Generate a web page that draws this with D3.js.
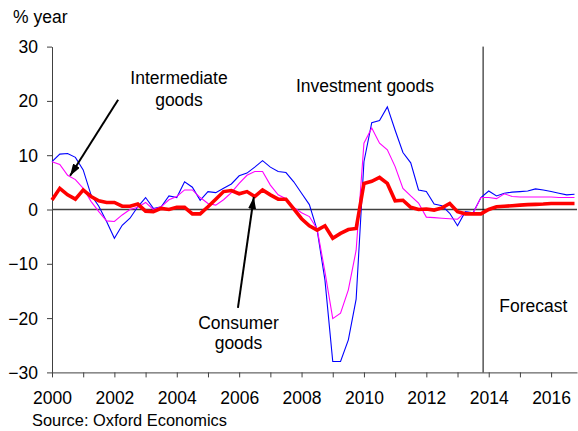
<!DOCTYPE html>
<html>
<head>
<meta charset="utf-8">
<script src="https://cdn.jsdelivr.net/npm/d3@7"></script>
<style>
  html, body { margin: 0; padding: 0; background: #ffffff; }
  #chart svg { display: block; font-family: 'Liberation Sans', Arial, sans-serif; }
  #chart .axis text { font-size: 17.5px; fill: #000000; font-family: 'Liberation Sans', Arial, sans-serif; }
  #chart .axis path, #chart .axis line { stroke: #404040; }
  #chart .label { font-size: 17.5px; fill: #000000; }
</style>
</head>
<body>
<div id="chart"></div>
<script>
/* ── DATA (quarterly, % year, 2000 Q1 → 2016 Q4) ─────────────── */
const startYear = 2000;
const forecastStart = 2013.82;

const yTicks = [-30, -20, -10, 0, 10, 20, 30];
const xTickYears = [2000, 2001, 2002, 2003, 2004, 2005, 2006, 2007, 2008,
                    2009, 2010, 2011, 2012, 2013, 2014, 2015, 2016];

const investmentGoods = [
  8.8, 10.2, 10.3, 9.6, 7.3, 2.7, 0.6, -2.2,
  -5.3, -2.9, -1.6, 0.5, 2.2, 0.2, 0.5, 2.5,
  2.2, 5.1, 4.1, 1.7, 3.3, 3.1, 3.9, 4.7,
  6.2, 6.7, 7.8, 9.0, 7.8, 7.0, 6.8, 5.1,
  3.0, 0.9, -3.8, -13.0, -28.0, -28.0, -24.0, -16.5,
  8.8, 16.0, 16.4, 18.9, 14.6, 10.5, 8.6, 3.6,
  3.3, 1.0, 0.7, -0.7, -3.0, -0.4, -0.6, 2.2,
  3.4, 2.5, 3.0, 3.2, 3.3, 3.4, 3.8, 3.6,
  3.3, 3.0, 2.7, 2.8
];

const intermediateGoods = [
  8.8, 8.3, 6.3, 5.5, 3.9, 1.5, -0.4, -2.1,
  -2.2, -1.0, 0.0, 0.4, 1.3, 0.0, 0.5, 1.8,
  2.4, 3.6, 3.6, 2.2, 1.1, 0.8, 1.8, 3.1,
  4.8, 6.3, 7.0, 7.0, 4.5, 2.7, 2.0, 0.4,
  -0.6, -1.3, -3.6, -11.5, -20.1, -19.1, -14.8, -7.5,
  12.2, 15.0, 12.2, 11.0, 7.9, 3.9, 2.5, 1.2,
  -1.4, -1.5, -1.6, -1.7, -1.8, -0.5, -0.7, 2.2,
  2.2, 2.0, 2.9, 2.4, 2.3, 2.3, 2.3, 2.3,
  2.3, 2.2, 2.2, 2.2
];

const consumerGoods = [
  1.75, 3.9, 2.7, 1.9, 3.6, 2.4, 1.6, 1.3,
  1.3, 0.6, 0.6, 1.0, -0.3, -0.4, 0.2, 0.0,
  0.4, 0.4, -0.8, -0.8, 0.5, 1.9, 3.3, 3.5,
  2.9, 3.3, 2.4, 3.6, 2.7, 1.9, 1.9, 0.1,
  -1.7, -3.0, -3.8, -3.0, -5.3, -4.4, -3.7, -3.5,
  4.8, 5.2, 5.9, 4.8, 1.6, 1.7, 0.4, 0.0,
  0.1, -0.1, 0.3, 1.1, -0.4, -0.8, -0.8, -0.8,
  0.0, 0.5, 0.6, 0.7, 0.8, 0.9, 0.95, 1.0,
  1.1, 1.1, 1.1, 1.1
];

/* ── SVG ─────────────────────────────────────────────────────── */
const width = 578, height = 431;

const svg = d3.select("#chart")
  .append("svg")
  .attr("width", width)
  .attr("height", height);

const x = d3.scaleLinear().domain([2000, 2016.83]).range([52, 577]);
const y = d3.scaleLinear().domain([-30, 30]).range([372.4, 46.6]);

const quarterX = (d, i) => x(startYear + i / 4);

/* ── AXES ────────────────────────────────────────────────────── */
svg.append("g")
  .attr("class", "axis")
  .attr("transform", `translate(${x(2000)},0)`)
  .call(d3.axisLeft(y).tickValues(yTicks).tickSize(5).tickSizeOuter(0).tickPadding(9))
  .call(g => g.selectAll("text").attr("dy", "0.34em"));

svg.append("g")
  .attr("class", "axis")
  .attr("transform", `translate(0,${y(-30)})`)
  .call(d3.axisBottom(x)
    .tickValues(xTickYears)
    .tickSize(5)
    .tickSizeOuter(0)
    .tickPadding(14)
    .tickFormat(d => d % 2 === 0 ? d : ""));

// zero line
svg.append("line")
  .attr("x1", x(2000)).attr("x2", x(2016.83))
  .attr("y1", y(0)).attr("y2", y(0))
  .attr("stroke", "#404040")
  .attr("stroke-width", 1.5);

// forecast divider
svg.append("line")
  .attr("x1", x(forecastStart)).attr("x2", x(forecastStart))
  .attr("y1", y(30)).attr("y2", y(-30))
  .attr("stroke", "#000000")
  .attr("stroke-width", 1);

/* ── LINES ───────────────────────────────────────────────────── */
const line = d3.line().x(quarterX).y(d => y(d));

svg.append("path").datum(investmentGoods)
  .attr("fill", "none").attr("stroke", "#0000ff").attr("stroke-width", 1.1)
  .attr("d", line);

svg.append("path").datum(intermediateGoods)
  .attr("fill", "none").attr("stroke", "#ff00ff").attr("stroke-width", 1.1)
  .attr("d", line);

svg.append("path").datum(consumerGoods)
  .attr("fill", "none").attr("stroke", "#ff0000").attr("stroke-width", 3.6)
  .attr("d", line);

/* ── ANNOTATIONS ─────────────────────────────────────────────── */
svg.append("defs").append("marker")
  .attr("id", "arrow")
  .attr("viewBox", "0 0 12 8")
  .attr("refX", 12).attr("refY", 4)
  .attr("markerWidth", 12).attr("markerHeight", 8)
  .attr("markerUnits", "userSpaceOnUse")
  .attr("orient", "auto")
  .append("path")
  .attr("d", "M0,0 L12,4 L0,8 Z")
  .attr("fill", "#000000");

function arrow(x1, y1, x2, y2) {
  svg.append("line")
    .attr("x1", x(x1)).attr("y1", y(y1))
    .attr("x2", x(x2)).attr("y2", y(y2))
    .attr("stroke", "#000000")
    .attr("stroke-width", 2)
    .attr("marker-end", "url(#arrow)");
}
arrow(2002.12, 20.2, 2000.58, 6.2);
arrow(2005.96, -18.1, 2006.47, 2.3);

function label(lines, cx, baseline, lineGap) {
  const t = svg.append("text")
    .attr("class", "label")
    .attr("text-anchor", "middle");
  lines.forEach((s, i) => {
    t.append("tspan").attr("x", cx).attr("y", baseline + i * lineGap).text(s);
  });
}
label(["Intermediate", "goods"], 179, 83.5, 22.3);
label(["Investment goods"], 365, 92.3, 0);
label(["Consumer", "goods"], 238.5, 328.5, 20.7);
label(["Forecast"], 533.3, 312.3, 0);

svg.append("text")
  .attr("class", "label")
  .attr("x", 13).attr("y", 23)
  .text("% year");

svg.append("text")
  .attr("x", 32).attr("y", 425.7)
  .style("font-size", "16.4px")
  .attr("fill", "#000000")
  .text("Source: Oxford Economics");
</script>
</body>
</html>
